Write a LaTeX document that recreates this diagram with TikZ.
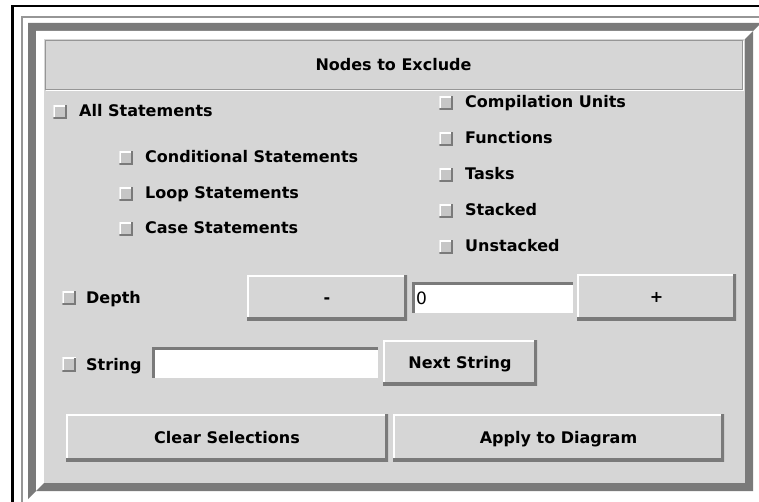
\documentclass[tikz,border=0pt]{standalone}
\usepackage{fontspec}
\setsansfont{DejaVu Sans}
\definecolor{panelgray}{RGB}{214,214,214}
\definecolor{shadowgray}{RGB}{122,122,122}
\definecolor{boxgray}{RGB}{198,198,198}
\definecolor{linegray}{RGB}{150,150,150}

\begin{document}
\begin{tikzpicture}[x=1pt, y=-1pt, font=\sffamily\bfseries\fontsize{16}{19}\selectfont,
  chk/.style={minimum size=13.5pt, inner sep=0pt, fill=boxgray, path picture={
    \draw[white, line width=3pt] (path picture bounding box.south west) -- (path picture bounding box.north west) -- (path picture bounding box.north east);
    \draw[shadowgray, line width=3pt] (path picture bounding box.south west) -- (path picture bounding box.south east) -- (path picture bounding box.north east);}},
  txt/.style={anchor=base west, inner sep=0pt},
  btn/.style={fill=panelgray, inner sep=0pt, text height=11.5pt, text depth=0pt, path picture={
    \draw[white, line width=4pt] (path picture bounding box.south west) -- (path picture bounding box.north west) -- (path picture bounding box.north east);
    \draw[shadowgray, line width=6pt] (path picture bounding box.south west) -- (path picture bounding box.south east) -- (path picture bounding box.north east);}},
  fld/.style={fill=white, inner sep=0pt, path picture={
    \draw[shadowgray, line width=5pt] (path picture bounding box.south west) -- (path picture bounding box.north west) -- (path picture bounding box.north east);}}]

\useasboundingbox (0,0) rectangle (759,502);
\fill[white] (0,0) rectangle (759,502);

\fill[black] (11,5) rectangle (759,7.5);
\fill[black] (11,5) rectangle (14,502);
\fill[linegray] (21,16) rectangle (759,18);
\fill[linegray] (21,16) rectangle (23,502);

\fill[shadowgray] (28,499) -- (28,23) -- (761,23) -- (753,31) -- (36,31) -- (36,491) -- cycle;
\fill[white] (36,491) -- (36,31) -- (753,31) -- (745,39) -- (44,39) -- (44,483) -- cycle;
\fill[shadowgray] (36,491) -- (753,491) -- (753,31) -- (745,39) -- (745,483) -- (44,483) -- cycle;
\fill[panelgray] (44,39) rectangle (745,483);

\draw[white] (46,90) -- (743,90) -- (743,41);
\node[draw=linegray, fill=panelgray, minimum width=697pt, minimum height=49pt, text height=11.5pt, text depth=0pt] (head) at (393.5,64.5) {Nodes to Exclude};

\node[chk] (allbox) at (60,112) {};
\node[txt] (alltxt) at (79,117) {All Statements};
\node[chk] (condbox) at (126,158) {};
\node[txt] (condtxt) at (145,163) {Conditional Statements};
\node[chk] (loopbox) at (126,194) {};
\node[txt] (looptxt) at (145,199) {Loop Statements};
\node[chk] (casebox) at (126,229) {};
\node[txt] (casetxt) at (145,234) {Case Statements};

\node[chk] (compbox) at (446,103) {};
\node[txt] (comptxt) at (465,108) {Compilation Units};
\node[chk] (funcbox) at (446,139) {};
\node[txt] (functxt) at (465,144) {Functions};
\node[chk] (taskbox) at (446,175) {};
\node[txt] (tasktxt) at (465,180) {Tasks};
\node[chk] (stackbox) at (446,211) {};
\node[txt] (stacktxt) at (465,216) {Stacked};
\node[chk] (unstackbox) at (446,247) {};
\node[txt] (unstacktxt) at (465,252) {Unstacked};

\node[chk] (depthbox) at (69,298) {};
\node[txt] (depthtxt) at (86,303.5) {Depth};
\node[btn, minimum width=160pt, minimum height=45pt] (minus) at (327,297.5) {-};
\node[fld, minimum width=161pt, minimum height=31pt] (depthfld) at (492.5,297.5) {};
\node[anchor=base west, inner sep=0pt, font=\sffamily\mdseries\fontsize{17}{20}\selectfont] (zero) at (416,304) {0};
\node[btn, minimum width=159pt, minimum height=46pt] (plus) at (656.5,297) {+};

\node[chk] (strbox) at (69,364.5) {};
\node[txt] (strtxt) at (86,370) {String};
\node[fld, minimum width=226pt, minimum height=31pt] (strfld) at (265,362.5) {};
\node[btn, minimum width=154pt, minimum height=45pt] (next) at (460,362.5) {Next String};

\node[btn, minimum width=322pt, minimum height=47pt] (clear) at (227,437.5) {Clear Selections};
\node[btn, minimum width=331pt, minimum height=47pt] (apply) at (558.5,437.5) {Apply to Diagram};

\end{tikzpicture}
\end{document}
